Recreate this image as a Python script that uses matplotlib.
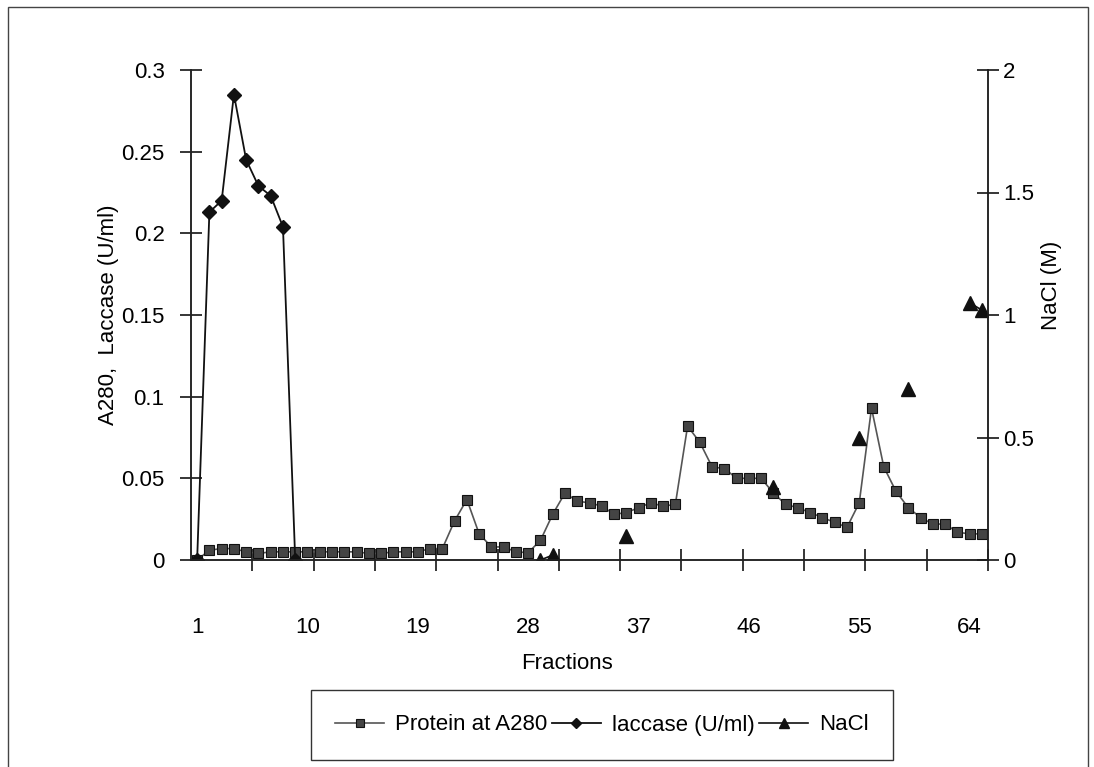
import numpy as np
import matplotlib
matplotlib.use("Agg")
import matplotlib.pyplot as plt
from matplotlib.patches import Rectangle

plt.rcParams['font.family'] = ['Liberation Sans', 'DejaVu Sans']

# fractions 1..65
fractions = list(range(1, 66))

protein = [0.000, 0.006, 0.007, 0.007, 0.005, 0.004, 0.005, 0.005, 0.005, 0.005,
           0.005, 0.005, 0.005, 0.005, 0.004, 0.004, 0.005, 0.005, 0.005, 0.007,
           0.007, 0.024, 0.037, 0.016, 0.008, 0.008, 0.005, 0.0045, 0.012, 0.028,
           0.041, 0.036, 0.035, 0.033, 0.028, 0.029, 0.032, 0.035, 0.033, 0.034,
           0.082, 0.072, 0.057, 0.056, 0.050, 0.050, 0.050, 0.041, 0.034, 0.032,
           0.029, 0.026, 0.023, 0.020, 0.035, 0.093, 0.057, 0.042, 0.032, 0.026,
           0.022, 0.022, 0.017, 0.016, 0.016]

laccase_fr = [1, 2, 3, 4, 5, 6, 7, 8, 9]
laccase_val = [0.0, 0.213, 0.220, 0.285, 0.245, 0.229, 0.223, 0.204, 0.0]

nacl_fr = [29, 30, 36, 48, 55, 59, 64, 65]
nacl_val = [0.0, 0.02, 0.10, 0.30, 0.50, 0.70, 1.05, 1.02]

xlabels = [1, 10, 19, 28, 37, 46, 55, 64]

# full-length series with gaps (Excel leaves blanks unconnected)
nacl = np.full(len(fractions), np.nan)
for f, v in zip(nacl_fr, nacl_val):
    nacl[f - 1] = v

fs = 16
fig = plt.figure(figsize=(10.94, 7.67), dpi=100)
W, H = 1094, 767
ax = fig.add_axes([191 / W, 1 - 560 / H, (988 - 191) / W, 490 / H])
ax2 = ax.twinx()

l1, = ax.plot(fractions, protein, color='#555555', lw=1.2, marker='s', ms=7.5,
              mfc='#444444', mec='#111111', mew=0.8, label='Protein at A280')
l2, = ax.plot(laccase_fr, laccase_val, color='#111111', lw=1.3, marker='D', ms=7,
              mfc='#111111', mec='#111111', label='laccase (U/ml)')
l3, = ax2.plot(fractions, nacl, color='#111111', lw=1.2, marker='^', ms=10,
               mfc='#111111', mec='#111111', label='NaCl')

ax.set_xlim(0.5, 65.5)
ax.set_ylim(0, 0.3)
ax2.set_ylim(0, 2)

ax.set_yticks([0, 0.05, 0.1, 0.15, 0.2, 0.25, 0.3])
ax.set_yticklabels(['0', '0.05', '0.1', '0.15', '0.2', '0.25', '0.3'])
ax2.set_yticks([0, 0.5, 1, 1.5, 2])
ax2.set_yticklabels(['0', '0.5', '1', '1.5', '2'])

# tick marks between categories every 5, labels every 9
ax.set_xticks(np.arange(5.5, 66, 5))
ax.set_xticklabels([])
ax.set_xticks(xlabels, minor=True)
ax.set_xticklabels([str(v) for v in xlabels], minor=True)
ax.tick_params(axis='x', which='minor', length=0, pad=41, labelsize=fs)
ax.tick_params(axis='x', which='major', direction='inout', length=16, width=1.1)
ax.tick_params(axis='y', direction='inout', length=16, width=1.1, pad=11, labelsize=fs)
ax2.tick_params(axis='y', direction='inout', length=16, width=1.1, pad=3, labelsize=fs)

for a in (ax, ax2):
    a.spines['top'].set_visible(False)
    for s in ('left', 'right', 'bottom'):
        a.spines[s].set_linewidth(1.1)
        a.spines[s].set_color('#222222')

ax.set_xlabel('Fractions', fontsize=fs)
ax.xaxis.set_label_coords((567 - 191) / 797, -0.19)
ax.set_ylabel('A280,  Laccase (U/ml)', fontsize=fs)
ax.yaxis.set_label_coords((119 - 191) / 797, 0.5)
ax2.set_ylabel('NaCl (M)', fontsize=fs)
ax2.yaxis.set_label_coords((1041 - 191) / 797, 0.56)

fig.legend(handles=[l1, l2, l3], loc='center', ncol=3,
           bbox_to_anchor=(602 / W, 1 - 725 / H), fontsize=fs,
           frameon=True, fancybox=False, edgecolor='#333333', framealpha=1,
           borderpad=1.1, handlelength=2.2, handletextpad=0.5,
           columnspacing=0.2, markerscale=0.75)

fig.patches.append(Rectangle((8 / W, -0.01), 1080 / W, 1.01 - 7 / H,
                             transform=fig.transFigure, fill=False,
                             edgecolor='#444444', lw=1.0))

fig.savefig('out.png', dpi=100)
